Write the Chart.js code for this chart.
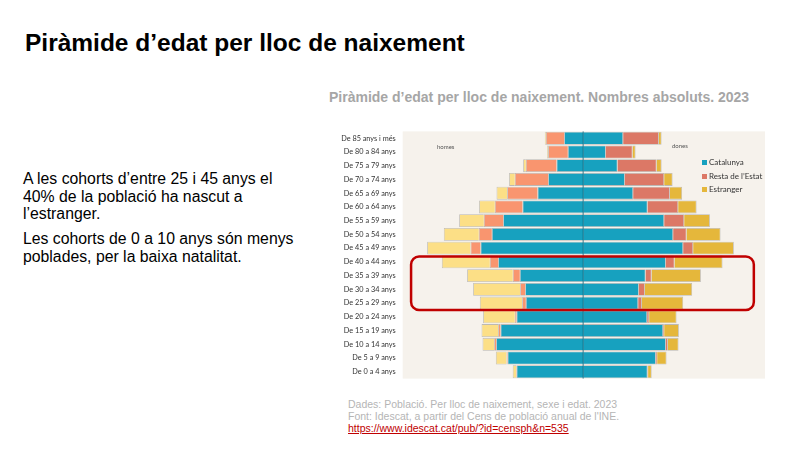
<!DOCTYPE html>
<html>
<head>
<meta charset="utf-8">
<script src="https://cdn.jsdelivr.net/npm/chart.js@4"></script>
<style>
  html, body { margin:0; padding:0; width:800px; height:450px; background:#fff; overflow:hidden; }
  body { position:relative; font-family:"Liberation Sans", Arial, sans-serif; }
  #title { position:absolute; left:25px; top:29px; font-size:24.5px; font-weight:bold; color:#000; white-space:nowrap; }
  .para { position:absolute; left:23px; font-size:15.8px; line-height:17.5px; color:#000; }
  #sub { position:absolute; left:329px; top:89px; font-size:14px; font-weight:bold; color:#a6a6a6; white-space:nowrap; }
  #src { position:absolute; left:348px; top:398px; font-size:10.5px; line-height:12px; color:#b5b5b5; white-space:nowrap; }
  #src a { color:#c00000; text-decoration:underline; }
  #wrap { position:absolute; left:330px; top:120px; width:440px; height:270px; }
  .lab { position:absolute; font-family:Lato, sans-serif; font-size:6px; color:#555; }
  #legend { position:absolute; left:702px; top:158px; font-family:Lato, sans-serif; font-size:8px; color:#333; }
  #legend div { height:13.5px; line-height:9px; white-space:nowrap; }
  #legend span { display:inline-block; width:5px; height:5px; margin-right:2px; vertical-align:0px; }
</style>
</head>
<body>
<div id="title">Piràmide d’edat per lloc de naixement</div>
<div class="para" style="top:170px;">A les cohorts d’entre 25 i 45 anys el<br>40% de la població ha nascut a<br>l’estranger.</div>
<div class="para" style="top:230px;">Les cohorts de 0 a 10 anys són menys<br>poblades, per la baixa natalitat.</div>
<div id="sub">Piràmide d’edat per lloc de naixement. Nombres absoluts. 2023</div>
<div id="wrap"><canvas id="c"></canvas></div>
<div class="lab" style="left:437px;top:143px;">homes</div>
<div class="lab" style="left:672px;top:142px;">dones</div>
<div id="legend">
  <div><span style="background:#17a1bf"></span>Catalunya</div>
  <div><span style="background:#dc7866"></span>Resta de l’Estat</div>
  <div><span style="background:#e5b73b"></span>Estranger</div>
</div>
<div id="src">Dades: Població. Per lloc de naixement, sexe i edat. 2023<br>Font: Idescat, a partir del Cens de població anual de l'INE.<br><a>https://www.idescat.cat/pub/?id=censph&amp;n=535</a></div>

<script>
// Age groups (top to bottom)
const ages = ["De 85 anys i més","De 80 a 84 anys","De 75 a 79 anys","De 70 a 74 anys","De 65 a 69 anys",
  "De 60 a 64 anys","De 55 a 59 anys","De 50 a 54 anys","De 45 a 49 anys","De 40 a 44 anys",
  "De 35 a 39 anys","De 30 a 34 anys","De 25 a 29 anys","De 20 a 24 anys","De 15 a 19 anys",
  "De 10 a 14 anys","De 5 a 9 anys","De 0 a 4 anys"];

// Population in thousands
const menCat   = [40.9, 32.9, 57.2, 75.3, 98.0, 130.3, 172.0, 196.3, 220.6, 182.8, 136.1, 124.7, 123.2, 143.2, 177.6, 187.1, 162.5, 143.2];
const menResta = [39.3, 42.4, 66.0, 71.6, 65.4, 59.6, 41.5, 28.0, 21.5, 17.8, 15.1, 10.8, 8.0, 3.7, 5.2, 4.3, 2.2, 1.1];
const menEstr  = [2.2, 2.2, 5.8, 12.3, 22.8, 33.8, 53.1, 75.3, 93.3, 103.2, 98.3, 101.1, 90.9, 68.2, 35.7, 24.9, 23.0, 7.1];
const womenCat   = [86.0, 48.8, 74.0, 89.7, 107.5, 138.5, 174.2, 193.5, 215.0, 177.8, 134.2, 119.8, 118.3, 137.6, 172.0, 177.8, 156.3, 138.5];
const womenResta = [76.8, 57.4, 83.9, 84.5, 78.9, 65.8, 43.0, 28.8, 21.5, 18.7, 12.9, 12.9, 8.0, 4.3, 2.2, 4.3, 2.8, 1.1];
const womenEstr  = [5.8, 6.5, 10.8, 18.1, 26.4, 39.6, 55.3, 73.1, 87.5, 103.2, 106.0, 101.7, 88.8, 58.9, 31.6, 23.0, 20.2, 7.7];

// Highlight box: rows and x-range (thousands)
const boxRows = ["De 40 a 44 anys", "De 25 a 29 anys"];
const boxX = [-370, 367];

const border = 'rgba(80,80,80,0.35)';
function ds(label, data, color) {
  return { label, data, backgroundColor: color, borderColor: border, borderWidth: 0.8, stack: 's',
           categoryPercentage: 0.94, barPercentage: 1 };
}

const decor = {
  id: 'decor',
  beforeDraw(chart) {
    const {ctx, chartArea: a} = chart;
    ctx.save();
    ctx.fillStyle = '#f6f2ec';
    ctx.fillRect(a.left, a.top, a.right - a.left, a.bottom - a.top);
    ctx.restore();
  },
  afterDatasetsDraw(chart) {
    const {ctx, chartArea: a, scales: {x, y}} = chart;
    ctx.save();
    const cx = x.getPixelForValue(0);
    ctx.strokeStyle = 'rgba(10,100,125,0.8)';
    ctx.lineWidth = 1;
    ctx.beginPath(); ctx.moveTo(cx, a.top); ctx.lineTo(cx, a.bottom); ctx.stroke();
    // highlight box
    const band = (a.bottom - a.top) / ages.length;
    const t = y.getPixelForValue(ages.indexOf(boxRows[0])) - band / 2 + 1.5;
    const b = y.getPixelForValue(ages.indexOf(boxRows[1])) + band / 2;
    const l = x.getPixelForValue(boxX[0]);
    const r = x.getPixelForValue(boxX[1]);
    ctx.strokeStyle = '#c00000';
    ctx.lineWidth = 2.5;
    ctx.beginPath();
    ctx.roundRect(l, t, r - l, b - t, 8);
    ctx.stroke();
    ctx.restore();
  }
};

new Chart(document.getElementById('c'), {
  type: 'bar',
  data: {
    labels: ages,
    datasets: [
      ds('Catalunya (homes)', menCat.map(v => -v), '#17a1bf'),
      ds('Resta de l’Estat (homes)', menResta.map(v => -v), '#f9956f'),
      ds('Estranger (homes)', menEstr.map(v => -v), '#fcdf86'),
      ds('Catalunya', womenCat, '#17a1bf'),
      ds('Resta de l’Estat', womenResta, '#dc7866'),
      ds('Estranger', womenEstr, '#e5b73b')
    ]
  },
  options: {
    indexAxis: 'y',
    responsive: true,
    maintainAspectRatio: false,
    animation: false,
    layout: { padding: { top: 4.3, bottom: 6.7, right: 5, left: 0 } },
    plugins: { legend: { display: false }, tooltip: { enabled: false } },
    scales: {
      x: { stacked: true, display: false, min: -388, max: 391 },
      y: {
        stacked: true,
        grid: { display: false, drawTicks: false },
        border: { display: false },
        ticks: { font: { family: 'Lato', size: 7.3 }, color: '#333', padding: 7, autoSkip: false },
        afterFit(scale) { scale.width = 72.7; }
      }
    }
  },
  plugins: [decor]
});
</script>
</body>
</html>
